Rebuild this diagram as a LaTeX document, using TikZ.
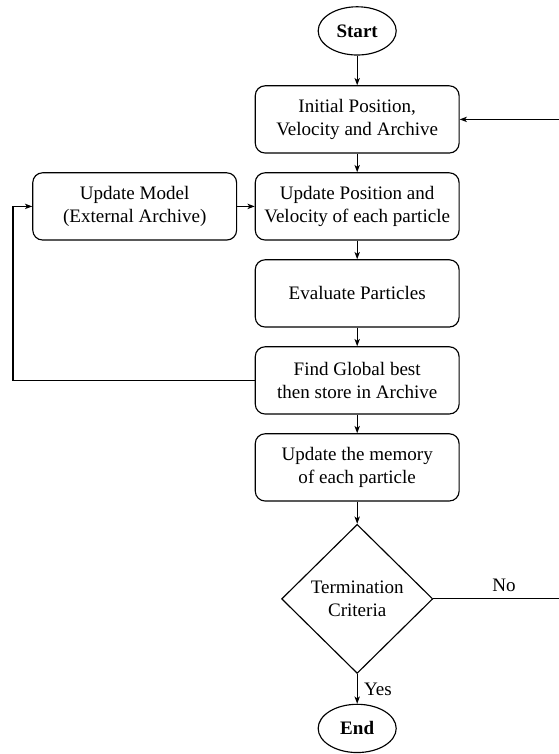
\documentclass[tikz,border=0pt]{standalone}
\usepackage{fontspec}
\setmainfont{Liberation Serif}
\usetikzlibrary{positioning,shapes.geometric,arrows.meta}

\begin{document}
\begin{tikzpicture}[on grid,>={Stealth[length=3.8pt,width=2.8pt,inset=1pt]},semithick,
  block/.style={draw,rounded corners=0.18cm,minimum width=3.76cm,minimum height=1.24cm,align=center},
  startstop/.style={draw,ellipse,minimum width=1.44cm,minimum height=0.89cm,font=\bfseries},
  decision/.style={draw,diamond,inner sep=0pt,minimum width=2.79cm,minimum height=2.75cm,align=center},
  line/.style={draw,->}
  ]
\useasboundingbox (0,0) rectangle (10.295,-13.911);
\node[startstop] (start) at (6.59,-0.57) {Start};
\node[block,below=1.633cm of start] (init) {Initial Position,\\Velocity and Archive};
\node[block,below=1.605cm of init] (upd) {Update Position and\\Velocity of each particle};
\node[block,left=4.105cm of upd] (model) {Update Model\\(External Archive)};
\node[block,below=1.605cm of upd] (eval) {Evaluate Particles};
\node[block,below=1.605cm of eval] (find) {Find Global best\\then store in Archive};
\node[block,below=1.605cm of find] (mem) {Update the memory\\of each particle};
\node[decision,below=2.426cm of mem] (crit) {Termination\\Criteria};
\node[startstop,below=2.39cm of crit] (stop) {End};
\coordinate (lft) at (0.24,0);
\coordinate (rgt) at (10.6,0);

\path[line] (start) -- (init);
\path[line] (init) -- (upd);
\path[line] (upd) -- (eval);
\path[line] (eval) -- (find);
\path[line] (find) -- (mem);
\path[line] (mem) -- (crit);
\path[line] (crit) -- node[right]{Yes} (stop);
\path[line] (model) -- (upd);
\path[line] (find.west) -- (find.west -| lft) |- (model.west);
\path[line] (crit.east) -- node[above]{No} (crit.east -| rgt) |- (init.east);
\end{tikzpicture}
\end{document}
